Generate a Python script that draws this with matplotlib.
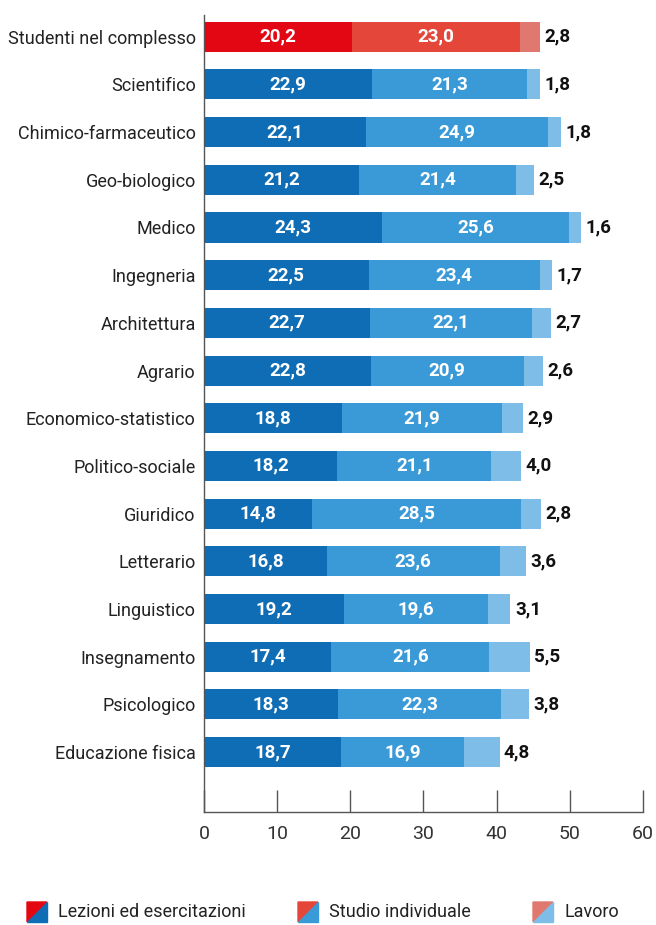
import matplotlib.pyplot as plt
from matplotlib.patches import Polygon

plt.rcParams['font.family'] = ['Roboto', 'DejaVu Sans']

# Ore settimanali per gruppo disciplinare
gruppi = ['Studenti nel complesso', 'Scientifico', 'Chimico-farmaceutico', 'Geo-biologico',
          'Medico', 'Ingegneria', 'Architettura', 'Agrario', 'Economico-statistico',
          'Politico-sociale', 'Giuridico', 'Letterario', 'Linguistico', 'Insegnamento',
          'Psicologico', 'Educazione fisica']
lezioni = [20.2, 22.9, 22.1, 21.2, 24.3, 22.5, 22.7, 22.8, 18.8, 18.2, 14.8, 16.8, 19.2, 17.4, 18.3, 18.7]
studio = [23.0, 21.3, 24.9, 21.4, 25.6, 23.4, 22.1, 20.9, 21.9, 21.1, 28.5, 23.6, 19.6, 21.6, 22.3, 16.9]
lavoro = [2.8, 1.8, 1.8, 2.5, 1.6, 1.7, 2.7, 2.6, 2.9, 4.0, 2.8, 3.6, 3.1, 5.5, 3.8, 4.8]
serie = ['Lezioni ed esercitazioni', 'Studio individuale', 'Lavoro']

rossi = ['#e30613', '#e4473a', '#e07870']
blu = ['#0f6db5', '#3a9ad8', '#7dbde8']

fig = plt.figure(figsize=(6.56, 9.25), dpi=100)
ax = fig.add_axes([0.311, 0.122, 0.669, 0.862])

fmt = lambda v: f'{v:.1f}'.replace('.', ',')

for i, g in enumerate(gruppi):
    cols = rossi if i == 0 else blu
    left = 0
    for j, v in enumerate([lezioni[i], studio[i], lavoro[i]]):
        ax.barh(i, v, left=left, height=0.63, color=cols[j], edgecolor='none')
        if j < 2:
            ax.text(left + v / 2, i, fmt(v), ha='center', va='center',
                    color='white', fontsize=13.5, fontweight='bold')
        left += v
    ax.text(left + 0.6, i, fmt(lavoro[i]), ha='left', va='center',
            color='#111111', fontsize=13.5, fontweight='bold')

ax.set_yticks(range(len(gruppi)))
ax.set_yticklabels(gruppi, fontsize=13, color='#222222')
ax.tick_params(axis='y', length=0, pad=6)
ax.set_ylim(16.26, -0.46)
ax.set_xlim(0, 60)
ax.set_xticks(range(0, 61, 10))
ax.tick_params(axis='x', direction='in', length=16, width=1, color='#555555',
               labelsize=14, labelcolor='#333333', pad=9)
for s in ['top', 'right']:
    ax.spines[s].set_visible(False)
for s in ['left', 'bottom']:
    ax.spines[s].set_color('#555555')
    ax.spines[s].set_linewidth(1)

# legenda con quadratini divisi in diagonale
W, H = 656, 925
for x0, nome, r, b in zip([27, 298, 533], serie, rossi, blu):
    y0 = 902
    s = 20
    tri1 = [(x0, H - y0), (x0 + s, H - y0), (x0, H - y0 - s)]
    tri2 = [(x0 + s, H - y0), (x0 + s, H - y0 - s), (x0, H - y0 - s)]
    fig.patches.append(Polygon([(px / W, py / H) for px, py in tri1], closed=True,
                               transform=fig.transFigure, color=r))
    fig.patches.append(Polygon([(px / W, py / H) for px, py in tri2], closed=True,
                               transform=fig.transFigure, color=b))
    fig.text((x0 + s + 11) / W, 1 - (y0 + s / 2) / H, nome, fontsize=13,
             color='#222222', va='center', ha='left')

fig.savefig('out.png', dpi=100)
